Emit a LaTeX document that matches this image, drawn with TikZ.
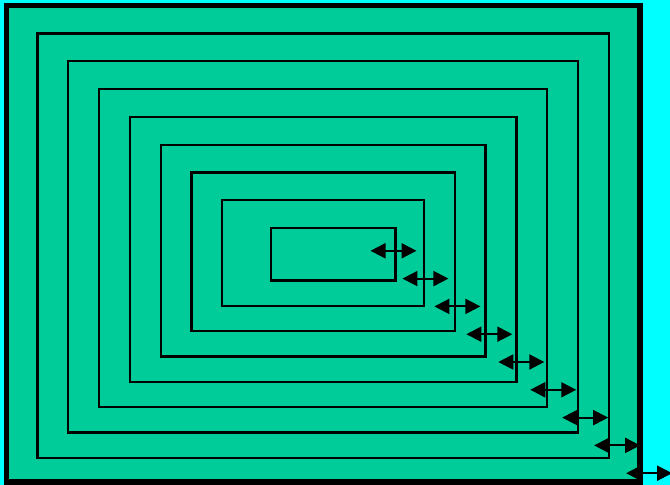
\documentclass[tikz,border=0pt]{standalone}
\usepackage{xcolor}
\definecolor{sea}{RGB}{0,204,153}
\definecolor{aqua}{RGB}{0,255,255}
\usetikzlibrary{arrows.meta}
\tikzset{
  outerframe/.style={draw=black, fill=sea, line width=5.5pt},
  ringbox/.style={draw=black, line width=2.3pt},
  gaparrow/.style={{Triangle[length=15pt,width=15pt]}-{Triangle[length=15pt,width=15pt]},
    line width=2pt}
}

\begin{document}
\begin{tikzpicture}[x=1pt,y=-1pt]

  \fill[aqua] (0,0) rectangle (670,485);
  \useasboundingbox (0,0) rectangle (670,485);

  \draw[outerframe] (6.7,5.5) rectangle (640,482);

  % nested frames
  \foreach \i in {0,...,6}{
    \draw[ringbox] ({37.5+30.8*\i},{33.5+27.8*\i})
      rectangle ({608.8-30.8*\i},{457.8-25.3*\i});
  }
  \draw[ringbox] (271.2,227.8) rectangle (395.5,280.5);

  % gap arrows
  \foreach \i in {0,...,8}{
    \coordinate (gl\i) at ({370.5+31.95*\i},{250.8+27.8*\i});
    \coordinate (gr\i) at ({416.5+31.95*\i},{250.8+27.8*\i});
    \draw[gaparrow] (gl\i) -- (gr\i);
  }

\end{tikzpicture}
\end{document}
